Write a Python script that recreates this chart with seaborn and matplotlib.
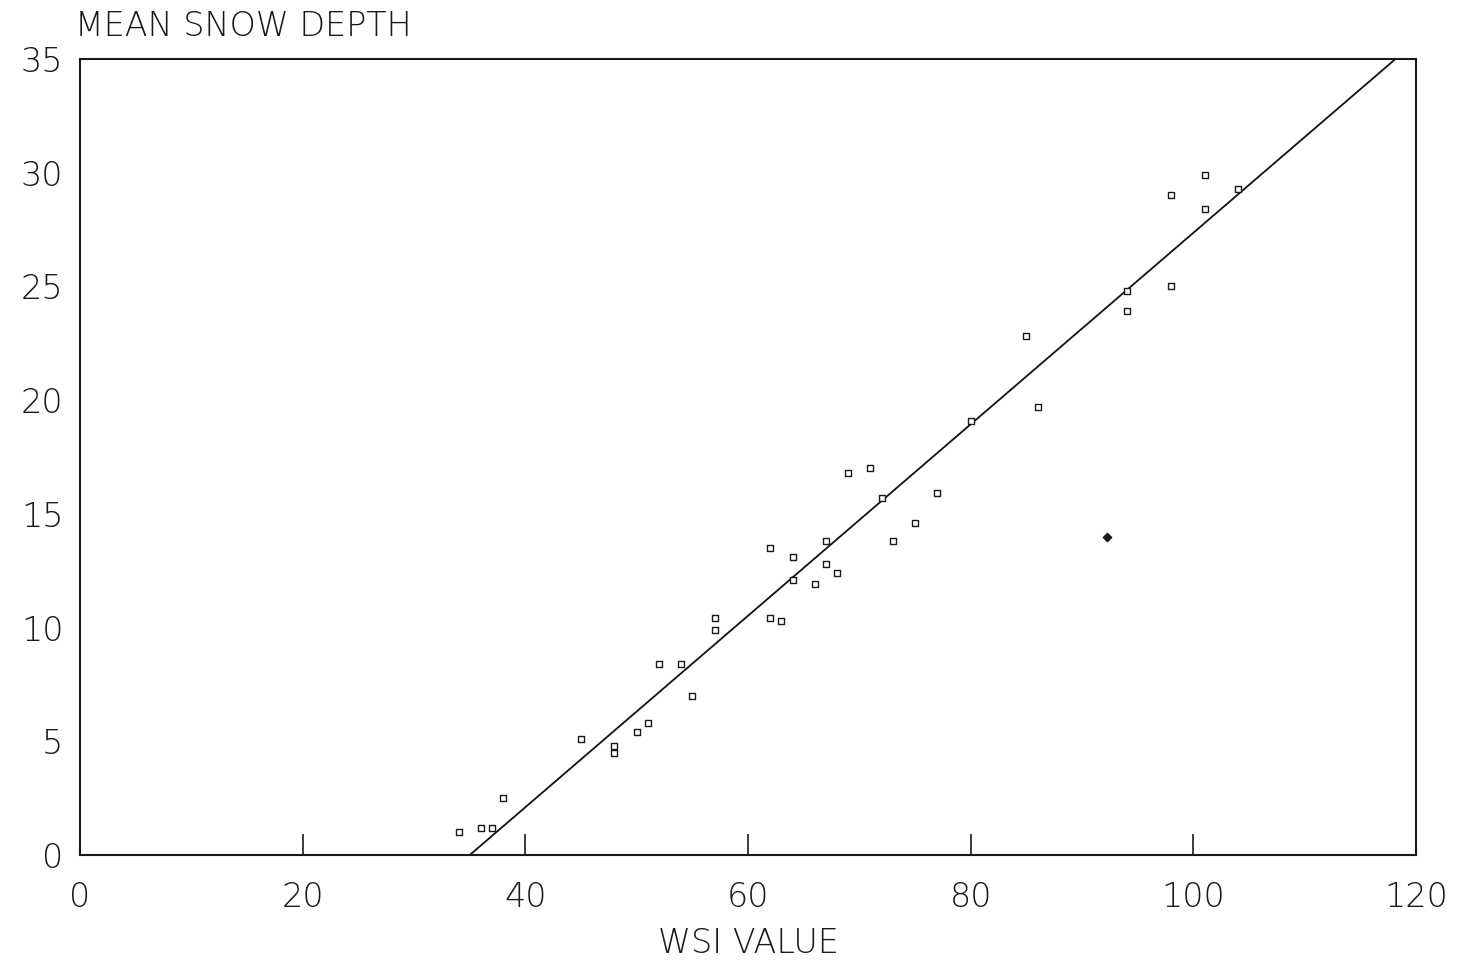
import matplotlib
matplotlib.use("Agg")
import matplotlib.pyplot as plt
import seaborn as sns
import pandas as pd

# WSI value vs mean snow depth
wsi = [34, 36, 37, 38, 45, 48, 48, 50, 51, 52, 54, 55, 57, 57,
       62, 62, 63, 64, 64, 66, 67, 67, 68, 69, 71, 72, 73, 75, 77,
       80, 85, 86, 94, 94, 98, 98, 101, 101, 104]
depth = [1.0, 1.2, 1.2, 2.5, 5.1, 4.8, 4.5, 5.4, 5.8, 8.4, 8.4, 7.0, 10.4, 9.9,
         13.5, 10.4, 10.3, 13.1, 12.1, 11.9, 13.8, 12.8, 12.4, 16.8, 17.0, 15.7, 13.8, 14.6, 15.9,
         19.1, 22.8, 19.7, 24.8, 23.9, 29.0, 25.0, 29.9, 28.4, 29.3]

# stray filled mark on the scan
odd_wsi = [92.2]
odd_depth = [14.0]

# fitted line
fit_slope = 0.421
fit_intercept = -14.74

x_ticks = [0, 20, 40, 60, 80, 100, 120]
y_ticks = [0, 5, 10, 15, 20, 25, 30, 35]

sns.set_theme(style="white")
plt.rcParams["font.family"] = ["DejaVu Sans"]
plt.rcParams["font.weight"] = "light"
plt.rcParams["axes.labelweight"] = "light"

ink = "#1a1a1a"
df = pd.DataFrame({"wsi": wsi, "depth": depth})

fig = plt.figure(figsize=(14.57, 9.6), dpi=100)
ax = fig.add_axes([0.0549, 0.1094, 0.9170, 0.8291])

sns.scatterplot(data=df, x="wsi", y="depth", ax=ax, marker="s", s=22,
                facecolor="white", edgecolor=ink, linewidth=1.0, zorder=3)
ax.scatter(odd_wsi, odd_depth, marker="D", s=18, color=ink, zorder=3)
ax.axline((0, fit_intercept), slope=fit_slope, color="#111111", linewidth=1.3, zorder=2)

ax.set_xlim(0, 120)
ax.set_ylim(0, 35)
ax.set_xticks(x_ticks)
ax.set_yticks(y_ticks)
ax.tick_params(axis="x", bottom=True, direction="in", length=15, width=1.2, color=ink,
               labelsize=24, pad=19, labelcolor=ink)
ax.tick_params(axis="y", left=False, length=0, labelsize=24, pad=12, labelcolor=ink)
ax.set_xlabel("WSI VALUE", fontsize=24, color=ink, labelpad=9, fontweight="light")
ax.set_ylabel("")
ax.text(-0.004, 1.02, "MEAN SNOW DEPTH", transform=ax.transAxes, fontsize=24,
        color=ink, ha="left", va="bottom", fontweight="light")

for sp in ax.spines.values():
    sp.set_visible(True)
    sp.set_color(ink)
    sp.set_linewidth(1.5)
ax.grid(False)

fig.savefig("out.png", dpi=100)
plt.close(fig)
